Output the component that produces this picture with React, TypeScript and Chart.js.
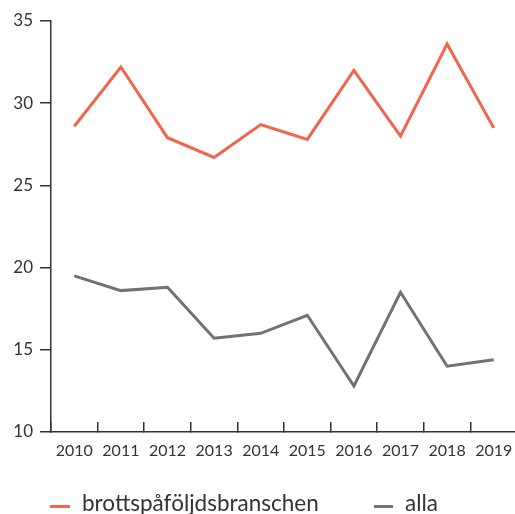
import React, { useEffect, useRef } from "react";
import { Chart, registerables } from "chart.js";

Chart.register(...registerables);

const years = ["2010", "2011", "2012", "2013", "2014", "2015", "2016", "2017", "2018", "2019"];
const brottspafoljd = [28.6, 32.2, 27.9, 26.7, 28.7, 27.8, 32.0, 28.0, 33.6, 28.5];
const alla = [19.5, 18.6, 18.8, 15.7, 16.0, 17.1, 12.8, 18.5, 14.0, 14.4];
const seriesNames = ["brottspåföljdsbranschen", "alla"];
const colors = ["#f2654a", "#727175"];

const FONT = "Lato, 'Open Sans', sans-serif";
const TEXT = "#333333";

export default function App() {
  const ref = useRef<HTMLCanvasElement>(null);
  useEffect(() => {
    const chart = new Chart(ref.current!, {
      type: "line",
      data: {
        labels: years,
        datasets: [
          { label: seriesNames[0], data: brottspafoljd, borderColor: colors[0], backgroundColor: colors[0], borderWidth: 3, pointRadius: 0, tension: 0 },
          { label: seriesNames[1], data: alla, borderColor: colors[1], backgroundColor: colors[1], borderWidth: 3, pointRadius: 0, tension: 0 },
        ],
      },
      options: {
        responsive: false,
        animation: false,
        layout: { padding: { top: 21, left: 0, right: 0, bottom: 0 } },
        plugins: { legend: { display: false }, tooltip: { enabled: false } },
        scales: {
          x: {
            offset: true,
            grid: { offset: true, drawOnChartArea: false, tickLength: -10, color: "#333", lineWidth: 1.5 },
            border: { display: true, color: "#333", width: 1.5 },
            ticks: { padding: 0, color: TEXT, font: { family: FONT, size: 16, lineHeight: "58px" }, maxRotation: 0, autoSkip: false },
            afterFit: (s: any) => { s.height = 82; },
          },
          y: {
            min: 10,
            max: 35,
            ticks: { stepSize: 5, padding: 7, color: TEXT, font: { family: FONT, size: 17 } },
            grid: { drawOnChartArea: false, tickLength: 11, color: "#333", lineWidth: 1.5 },
            border: { display: true, color: "#333", width: 1.5 },
            afterFit: (s: any) => { s.width = 51; },
          },
        },
      },
    });
    return () => chart.destroy();
  }, []);

  const legendText: React.CSSProperties = {
    position: "absolute",
    top: 489,
    fontFamily: FONT,
    fontSize: 22.5,
    color: TEXT,
    lineHeight: "28px",
    whiteSpace: "nowrap",
  };
  return (
    <div style={{ position: "fixed", left: 0, top: 0, width: 515, height: 514, overflow: "hidden", background: "#fff" }}>
      <canvas ref={ref} width={517} height={514} style={{ position: "absolute", left: 0, top: 0 }} />
      <div style={{ position: "absolute", left: 50, top: 505, width: 20, height: 3, background: colors[0] }} />
      <span style={{ ...legendText, left: 82 }}>{seriesNames[0]}</span>
      <div style={{ position: "absolute", left: 374, top: 505, width: 19, height: 3, background: colors[1] }} />
      <span style={{ ...legendText, left: 405 }}>{seriesNames[1]}</span>
    </div>
  );
}
